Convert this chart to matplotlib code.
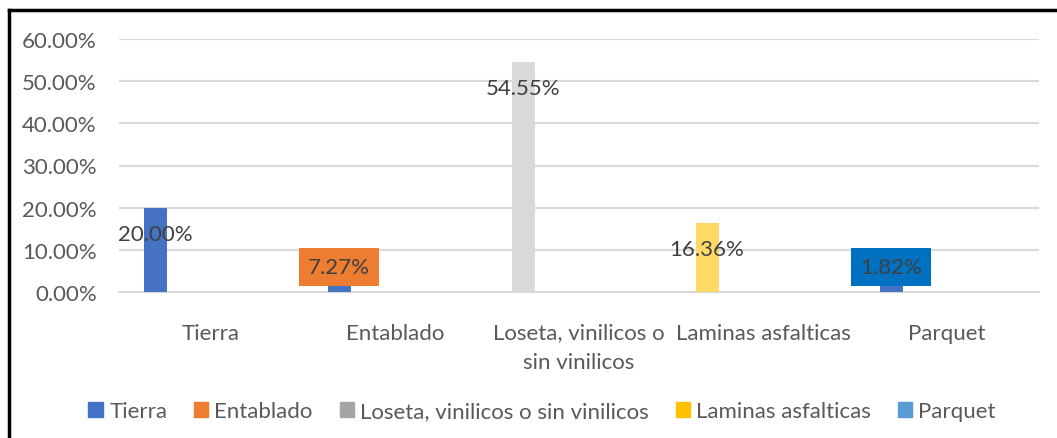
import matplotlib
matplotlib.use('Agg')
import matplotlib.pyplot as plt
from matplotlib.patches import Patch
from matplotlib.lines import Line2D
from matplotlib.ticker import PercentFormatter

categories = ['Tierra', 'Entablado', 'Loseta, vinilicos o\nsin vinilicos', 'Laminas asfalticas', 'Parquet']
series = ['Tierra', 'Entablado', 'Loseta, vinilicos o sin vinilicos', 'Laminas asfalticas', 'Parquet']
values = [0.20, 0.0727, 0.5455, 0.1636, 0.0182]
labels = ['20.00%', '7.27%', '54.55%', '16.36%', '1.82%']
bar_colors = ['#4472C4', '#4472C4', '#D9D9D9', '#FFD966', '#4472C4']
legend_colors = ['#4472C4', '#ED7D31', '#A5A5A5', '#FFC000', '#5B9BD5']
label_boxes = [None, '#ED7D31', None, None, '#0070C0']

plt.rcParams['font.family'] = ['Lato', 'DejaVu Sans']
FS = 16

fig = plt.figure(figsize=(10.57, 4.39), dpi=100)
ax = fig.add_axes([119/1057, 1-293/439, 920/1057, 253/439])

x = range(len(categories))
xs = [i - 0.304 for i in x]
ax.bar(xs, values, width=0.125, color=bar_colors, zorder=3)

for xi, v, lab, bc in zip(xs, values, labels, label_boxes):
    y = max(v - 0.062, 0.059)
    kw = {}
    if bc:
        kw['bbox'] = dict(boxstyle='square,pad=0.4', fc=bc, ec='none')
    ax.text(xi, y, lab, ha='center', va='center', fontsize=FS, color='#404040', zorder=4, **kw)

ax.set_xlim(-0.5, len(categories) - 0.5)
ax.set_ylim(0, 0.6)
ax.set_yticks([0, 0.1, 0.2, 0.3, 0.4, 0.5, 0.6])
ax.yaxis.set_major_formatter(PercentFormatter(1.0, decimals=2))
ax.set_xticks(list(x))
ax.set_xticklabels(categories, linespacing=1.6)
ax.tick_params(axis='both', length=0, labelsize=FS, labelcolor='#595959')
ax.tick_params(axis='y', pad=16)
ax.tick_params(axis='x', pad=22)
ax.grid(axis='y', color='#D9D9D9', lw=1.5, zorder=0)
for s in ['top', 'right', 'left']:
    ax.spines[s].set_visible(False)
ax.spines['bottom'].set_color('#D9D9D9')
ax.spines['bottom'].set_linewidth(1.5)

handles = [Patch(color=c, label=s) for c, s in zip(legend_colors, series)]
leg = fig.legend(handles=handles, loc='center', bbox_to_anchor=(0.513, 1-412/439), ncol=5,
                 frameon=False, fontsize=FS, handlelength=0.65, handleheight=0.65,
                 handletextpad=0.28, columnspacing=1.2)
for t in leg.get_texts():
    t.set_color('#595959')

# outer frame (left and top edges visible)
fig.add_artist(Line2D([8.5/1057, 8.5/1057], [0, 1-10.5/439], color='black', lw=2.5, transform=fig.transFigure))
fig.add_artist(Line2D([8.5/1057, 1], [1-10.5/439, 1-10.5/439], color='black', lw=2.5, transform=fig.transFigure))

fig.savefig('out.png', dpi=100)
